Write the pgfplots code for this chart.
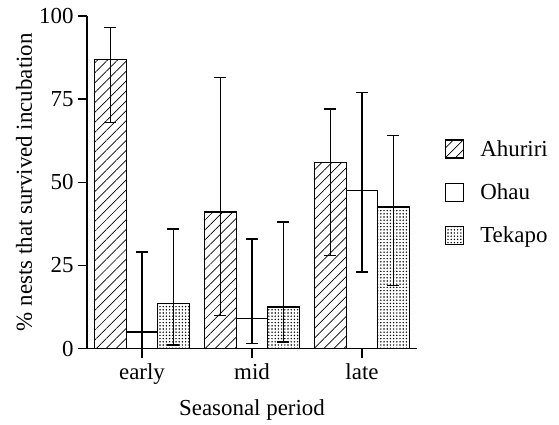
\documentclass[border=0pt]{standalone}
\usepackage{fontspec}
\setmainfont{Liberation Serif}
\usepackage{pgfplots}
\pgfplotsset{compat=1.18}
\usetikzlibrary{patterns.meta}
\newcommand{\myfont}{\fontsize{23}{27}\selectfont}
\begin{document}
\begin{tikzpicture}
\begin{axis}[
  at={(0,0)}, anchor=south west,
  scale only axis,
  width=330bp, height=332.5bp,
  xmin=-0.5, xmax=2.5, ymin=0, ymax=100,
  axis x line*=bottom, axis y line*=left,
  axis line style={line width=1.4bp, -},
  xtick={0,1,2}, xticklabels={early,mid,late},
  ytick={0,25,50,75,100},
  tick align=outside,
  major tick length=9bp,
  tick style={line width=1.4bp, black},
  /pgf/number format/assume math mode=true,
  tick label style={font=\myfont},
  xticklabel style={yshift=-3bp},
  yticklabel style={xshift=-1bp},
  label style={font=\myfont},
  xlabel={Seasonal period},
  xlabel style={yshift=-8bp},
  ylabel={\% nests that survived incubation},
  ylabel style={yshift=0bp},
  ybar=0pt, bar width=31.5bp,
  legend style={draw=none, at={(1.075,0.47)}, anchor=west, font=\myfont,
    row sep=22bp, /tikz/every odd column/.append style={column sep=14bp}},
  legend cell align=left,
  legend image code/.code={\draw[#1, line width=1.4bp] (0bp,-9bp) rectangle (18bp,9bp);},
]
\addplot[draw=black, line width=1.4bp, pattern={Lines[angle=45,distance=7bp,line width=0.7bp]},
  error bars/.cd, y dir=both, y explicit,
  error bar style={line width=1.5bp, black, solid},
  error mark options={line width=1.5bp, black, mark size=6bp, rotate=90}]
  coordinates {(0,87) += (0,9.5) -= (0,19) (1,41) += (0,40.5) -= (0,31) (2,56) += (0,16) -= (0,28)};
\addplot[draw=black, line width=1.4bp, fill=white,
  error bars/.cd, y dir=both, y explicit,
  error bar style={line width=1.5bp, black, solid},
  error mark options={line width=1.5bp, black, mark size=6bp, rotate=90}]
  coordinates {(0,5) += (0,24) -= (0,5) (1,9) += (0,24) -= (0,7.5) (2,47.5) += (0,29.5) -= (0,24.5)};
\addplot[draw=black, line width=1.4bp, pattern={Dots[distance=3.2bp,radius=0.8bp]},
  error bars/.cd, y dir=both, y explicit,
  error bar style={line width=1.5bp, black, solid},
  error mark options={line width=1.5bp, black, mark size=6bp, rotate=90}]
  coordinates {(0,13.5) += (0,22.5) -= (0,12.5) (1,12.5) += (0,25.5) -= (0,10.5) (2,42.5) += (0,21.5) -= (0,23.5)};
\legend{Ahuriri,Ohau,Tekapo}
\end{axis}
\pgfresetboundingbox
\path[use as bounding box] (-87bp,-76.5bp) rectangle (472bp,348.5bp);
\end{tikzpicture}
\end{document}
